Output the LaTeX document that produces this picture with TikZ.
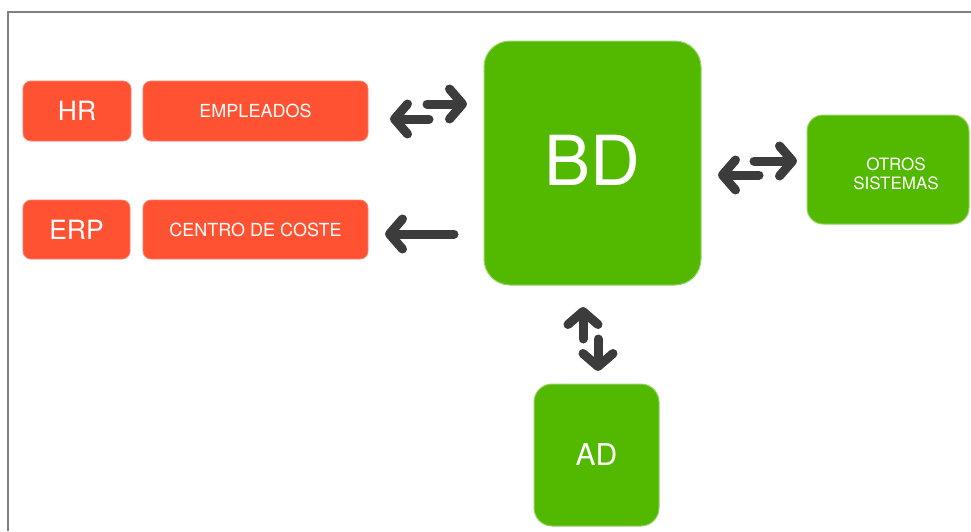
\documentclass[tikz,border=0pt]{standalone}
\usepackage{fontspec}
\setmainfont{TeX Gyre Heros}
\usetikzlibrary{arrows.meta}
\definecolor{hrred}{HTML}{FF5232}
\definecolor{bdgreen}{HTML}{52B800}
\definecolor{arrowgray}{HTML}{3C3C3C}
\definecolor{framegray}{HTML}{7F7F7F}
\begin{document}
\begin{tikzpicture}[x=1pt,y=-1pt,
  box/.style={rounded corners=#1, inner sep=0pt, text=white, anchor=center, align=center},
  box/.default=8pt,
  redbox/.style={box=8pt, fill=hrred, draw=hrred!75!white, line width=0.8pt},
  greenbox/.style={box=#1, fill=bdgreen, draw=bdgreen!60!white, line width=1pt},
  greenbox/.default=18pt,
  arr/.style={draw=arrowgray, line width=9pt, line cap=round,
    -{Straight Barb[length=13pt, width=30pt, round]}},
  frameline/.style={draw=framegray, line width=1.4pt}
]
\useasboundingbox (0,0) rectangle (971,531);

% outer frame (top and left edges only)
\coordinate (fl) at (8,531);
\coordinate (ftl) at (8,12);
\coordinate (ftr) at (971,12);
\draw[frameline] (fl) -- (ftl) -- (ftr);

% source systems
\node[redbox, minimum width=108pt, minimum height=60pt,
      font=\fontsize{26.5}{30}\selectfont] (hr) at (77,111) {HR};
\node[redbox, minimum width=225pt, minimum height=60pt,
      font=\fontsize{18}{20}\selectfont] (emp) at (255.5,111) {EMPLEADOS};
\node[redbox, minimum width=107pt, minimum height=59pt,
      font=\fontsize{26.5}{30}\selectfont] (erp) at (76.5,229.5) {ERP};
\node[redbox, minimum width=225pt, minimum height=59pt,
      font=\fontsize{18}{20}\selectfont] (cc) at (255.5,229.5) {CENTRO DE COSTE};

% central database
\node[greenbox=26pt, minimum width=217pt, minimum height=244pt,
      label={[text=white, yshift=3pt, font=\fontsize{69}{72}\selectfont]center:BD}] (bd) at (592.5,163) {};

% other systems and active directory
\node[greenbox=16pt, minimum width=162pt, minimum height=109pt,
      label={[text=white, xshift=8pt, yshift=-4pt, align=center,
              font=\fontsize{17}{19}\selectfont]center:OTROS\\SISTEMAS}] (otros) at (888,169.5) {};
\node[greenbox=18pt, minimum width=125pt, minimum height=142pt,
      font=\fontsize{30}{32}\selectfont] (ad) at (596.5,455) {AD};

% arrow end points
\coordinate (a1s) at (427,104);  \coordinate (a1t) at (467,104);
\coordinate (a2s) at (429,119);  \coordinate (a2t) at (390,119);
\coordinate (a3s) at (454,234);  \coordinate (a3t) at (385,234);
\coordinate (a4s) at (754,161);  \coordinate (a4t) at (797,161);
\coordinate (a5s) at (759,175);  \coordinate (a5t) at (718,175);
\coordinate (a6s) at (583,339);  \coordinate (a6t) at (583,307);
\coordinate (a7s) at (598,339);  \coordinate (a7t) at (598,371);

\draw[arr] (a1s) -- (a1t);
\draw[arr] (a2s) -- (a2t);
\draw[arr] (a3s) -- (a3t);
\draw[arr] (a4s) -- (a4t);
\draw[arr] (a5s) -- (a5t);
\draw[arr] (a6s) -- (a6t);
\draw[arr] (a7s) -- (a7t);
\end{tikzpicture}
\end{document}
